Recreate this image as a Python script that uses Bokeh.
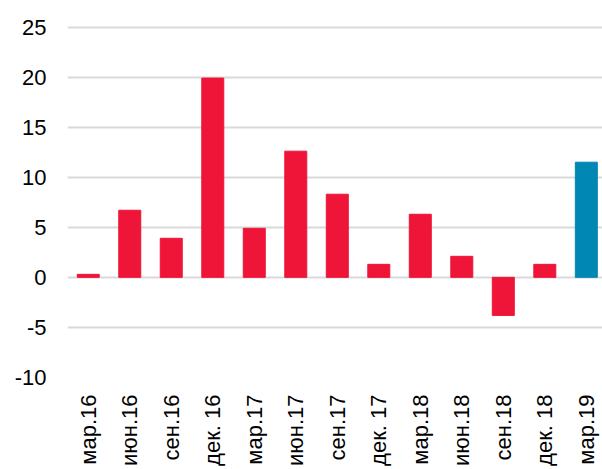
from bokeh.plotting import figure
from bokeh.models import FixedTicker, Range1d
from bokeh.embed import file_html
from bokeh.resources import INLINE

categories = ["мар.16", "июн.16", "сен.16", "дек. 16", "мар.17", "июн.17", "сен.17",
              "дек. 17", "мар.18", "июн.18", "сен.18", "дек. 18", "мар.19"]
values = [0.3, 6.7, 3.9, 19.9, 4.9, 12.6, 8.3, 1.3, 6.3, 2.1, -3.8, 1.3, 11.5]
y_ticks = [-10, -5, 0, 5, 10, 15, 20, 25]
y_labels = ["-10", "-5", "0", "5", "10", "15", "20", "25"]

RED = "#EF1538"
BLUE = "#0087B3"
colors = [RED] * (len(values) - 1) + [BLUE]
xs = list(range(len(categories)))

p = figure(width=602, height=469, output_backend="svg", toolbar_location=None,
           x_range=Range1d(-0.5, 12.39), y_range=Range1d(-10, 25.15))
p.outline_line_color = None
p.min_border_top = 25
p.min_border_right = 0
p.min_border_left = 67
p.min_border_bottom = 0

p.vbar(x=xs, top=values, bottom=0, width=0.53, color=colors)

p.xgrid.grid_line_color = None
p.ygrid.grid_line_color = "#D9D9D9"
p.ygrid.grid_line_width = 2
p.yaxis.ticker = FixedTicker(ticks=y_ticks)
p.yaxis.major_label_overrides = {t: l for t, l in zip(y_ticks, y_labels)}
p.xaxis.ticker = FixedTicker(ticks=xs)
p.xaxis.major_label_overrides = {i: c for i, c in enumerate(categories)}
p.xaxis.major_label_orientation = 1.5708

for ax in (p.xaxis, p.yaxis):
    ax.axis_line_color = None
    ax.major_tick_line_color = None
    ax.minor_tick_line_color = None
    ax.major_tick_out = 0
    ax.major_tick_in = 0
    ax.major_label_text_font = "Liberation Sans"
    ax.major_label_text_font_size = "22px"
    ax.major_label_text_color = "#000000"

p.yaxis.major_label_standoff = 21
p.xaxis.major_label_standoff = 17

open("out.html", "w").write(file_html(p, INLINE))
